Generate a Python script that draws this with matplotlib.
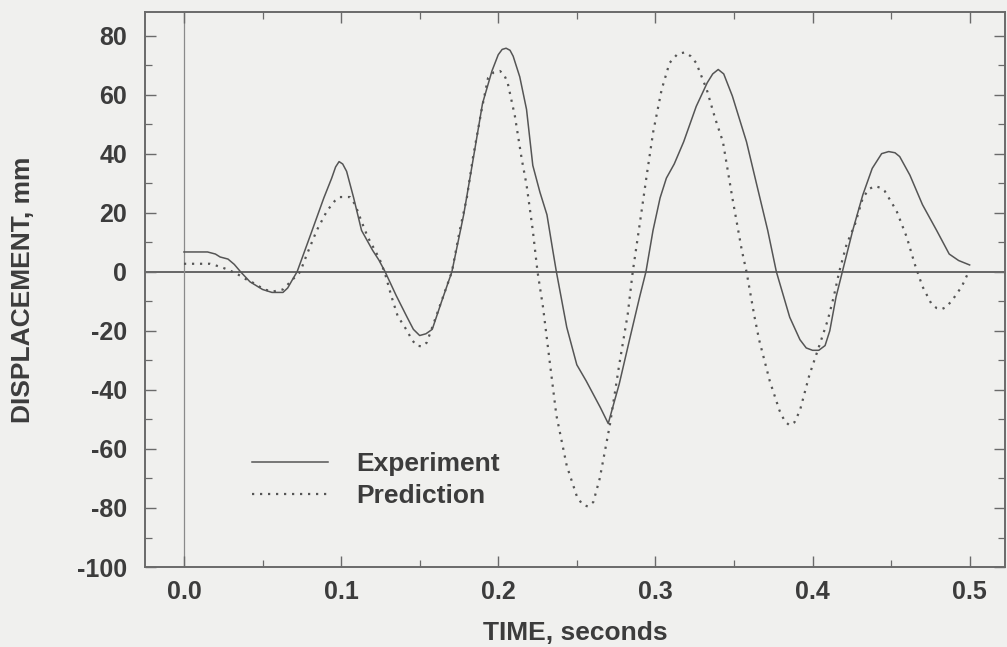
import matplotlib
matplotlib.use("Agg")
import matplotlib.pyplot as plt
from matplotlib.ticker import MultipleLocator, FixedLocator

# values
exp_t = [0.000, 0.015, 0.020, 0.023, 0.028, 0.032, 0.036, 0.042, 0.050, 0.056,
         0.063, 0.066, 0.069, 0.072, 0.080, 0.089, 0.094, 0.0965, 0.0987, 0.101,
         0.1035, 0.108, 0.113, 0.120, 0.124, 0.128, 0.135, 0.142, 0.146, 0.150,
         0.154, 0.158, 0.164, 0.1705, 0.178, 0.184, 0.190, 0.196, 0.200, 0.2025,
         0.205, 0.2075, 0.2095, 0.2137, 0.218, 0.222, 0.2265, 0.231, 0.2347, 0.237,
         0.2436, 0.250, 0.256, 0.265, 0.270, 0.277, 0.284, 0.290, 0.294, 0.2985,
         0.303, 0.307, 0.312, 0.318, 0.326, 0.333, 0.3365, 0.340, 0.3435, 0.349,
         0.358, 0.3645, 0.3715, 0.377, 0.3855, 0.392, 0.396, 0.400, 0.404, 0.408,
         0.411, 0.415, 0.419, 0.4256, 0.432, 0.438, 0.444, 0.4485, 0.4525, 0.4555,
         0.462, 0.470, 0.479, 0.487, 0.493, 0.500]
exp_disp = [6.7, 6.7, 6.0, 5.0, 4.3, 2.5, 0.0, -3.4, -6.0, -7.0,
            -7.0, -5.5, -2.7, 0.0, 11.7, 25.0, 31.7, 35.5, 37.3, 36.5,
            34.0, 25.0, 14.0, 7.3, 4.0, 0.0, -8.0, -15.4, -19.5, -21.6,
            -21.0, -19.5, -10.0, 0.0, 19.3, 38.0, 57.0, 68.0, 73.5, 75.3,
            75.7, 75.0, 73.0, 66.0, 55.0, 36.0, 27.0, 19.3, 7.3, 0.0,
            -18.8, -31.5, -37.0, -46.0, -51.4, -38.0, -22.0, -8.5, 0.0, 14.0,
            25.0, 31.7, 36.5, 44.0, 56.0, 64.0, 67.0, 68.5, 67.0, 59.5,
            44.0, 29.5, 14.0, 0.0, -15.4, -23.0, -25.8, -26.6, -26.6, -25.0,
            -20.0, -8.5, 0.0, 14.0, 26.0, 35.0, 40.0, 40.7, 40.3, 39.0,
            32.7, 22.7, 14.0, 6.0, 3.8, 2.3]

pred_t = [0.000, 0.0165, 0.023, 0.028, 0.0337, 0.040, 0.045, 0.051, 0.0566, 0.063,
          0.069, 0.074, 0.078, 0.0845, 0.091, 0.096, 0.099, 0.1056, 0.109, 0.113,
          0.117, 0.1215, 0.1247, 0.128, 0.132, 0.136, 0.142, 0.145, 0.148, 0.1515,
          0.1545, 0.158, 0.165, 0.1705, 0.1755, 0.180, 0.184, 0.1895, 0.1935, 0.197,
          0.201, 0.2035, 0.206, 0.2106, 0.215, 0.218, 0.222, 0.225, 0.2285, 0.233,
          0.237, 0.2436, 0.250, 0.2535, 0.257, 0.2605, 0.2646, 0.271, 0.277, 0.2824,
          0.2856, 0.290, 0.2945, 0.2986, 0.304, 0.309, 0.314, 0.3187, 0.3225, 0.326,
          0.3327, 0.338, 0.343, 0.349, 0.355, 0.358, 0.363, 0.366, 0.3728, 0.379,
          0.3825, 0.3855, 0.3885, 0.392, 0.398, 0.4046, 0.4097, 0.4135, 0.417, 0.4217,
          0.427, 0.432, 0.436, 0.4395, 0.443, 0.446, 0.4535, 0.460, 0.465, 0.470,
          0.4758, 0.479, 0.482, 0.485, 0.489, 0.495, 0.4994]
pred_disp = [2.7, 2.7, 1.7, 0.7, -0.7, -2.7, -4.0, -6.0, -6.7, -6.0,
             -2.7, 0.0, 5.6, 14.0, 20.6, 24.0, 25.3, 25.3, 22.7, 17.0,
             11.7, 7.3, 4.0, -0.7, -8.3, -15.0, -20.0, -23.0, -25.0, -25.3,
             -24.0, -18.8, -8.3, 0.0, 14.0, 25.0, 39.0, 55.0, 65.6, 67.5,
             68.0, 67.0, 64.0, 52.7, 38.0, 29.5, 14.0, 0.0, -12.0, -31.5,
             -48.6, -65.7, -76.0, -78.8, -79.5, -78.0, -70.0, -52.0, -31.5, -14.4,
             0.0, 16.0, 32.7, 47.3, 61.7, 70.7, 73.7, 74.3, 73.0, 70.7,
             61.7, 52.0, 44.0, 25.0, 7.3, 0.0, -15.0, -23.0, -37.0, -47.0,
             -50.8, -52.0, -51.0, -47.0, -35.0, -24.6, -16.4, -8.5, 0.0, 9.3,
             16.0, 25.0, 28.0, 29.0, 28.5, 27.3, 20.6, 11.7, 2.7, -5.0,
             -11.0, -12.3, -12.7, -12.0, -9.6, -5.0, 0.0]

x_ticks = [0.0, 0.1, 0.2, 0.3, 0.4, 0.5]
x_labels = ["0.0", "0.1", "0.2", "0.3", "0.4", "0.5"]
y_ticks = [-100, -80, -60, -40, -20, 0, 20, 40, 60, 80]
y_labels = ["-100", "-80", "-60", "-40", "-20", "0", "20", "40", "60", "80"]

bg = "#f0f0ee"
ink = "#3c3c3c"
line_col = "#555555"

plt.rcParams["font.family"] = ["Liberation Sans", "DejaVu Sans"]
plt.rcParams["font.weight"] = "bold"

fig = plt.figure(figsize=(10.07, 6.47), dpi=100, facecolor=bg)
ax = fig.add_axes([0.144, 0.1236, 0.854, 0.858], facecolor=bg)

ax.axhline(0, color="#666666", lw=1.4, zorder=1)
ax.axvline(0, color="#8a8a8a", lw=0.9, zorder=1)

ax.plot(exp_t, exp_disp, color=line_col, lw=1.1, label="Experiment", zorder=3,
        solid_joinstyle="round")
ax.plot(pred_t, pred_disp, color=line_col, lw=1.6, linestyle=(0, (1, 2.6)),
        label="Prediction", zorder=3)

ax.set_xlim(-0.0248, 0.5225)
ax.set_ylim(-100, 88)

ax.xaxis.set_major_locator(FixedLocator(x_ticks))
ax.set_xticklabels(x_labels)
ax.yaxis.set_major_locator(FixedLocator(y_ticks))
ax.set_yticklabels(y_labels)
ax.xaxis.set_minor_locator(MultipleLocator(0.05))
ax.yaxis.set_minor_locator(MultipleLocator(10))

ax.tick_params(which="both", direction="in", top=True, right=True,
               colors="#6a6a6a", labelcolor=ink, labelsize=18)
ax.tick_params(which="major", length=8, width=1.0)
ax.tick_params(which="minor", length=5, width=0.9)
ax.tick_params(axis="x", pad=9)
ax.tick_params(axis="y", pad=13)

for s in ax.spines.values():
    s.set_color("#6a6a6a")
    s.set_linewidth(1.4)

ax.set_xlabel("TIME, seconds", fontsize=19, fontweight="bold", color=ink)
ax.set_ylabel("DISPLACEMENT, mm", fontsize=19, fontweight="bold", color=ink)
ax.xaxis.set_label_coords(0.5, -0.097)
ax.yaxis.set_label_coords(-0.128, 0.5)

leg = ax.legend(loc="upper left", bbox_to_anchor=(0.124, 0.207), frameon=False,
                prop={"size": 19, "weight": "bold"}, handlelength=2.9,
                handletextpad=1.05, labelspacing=0.3, borderpad=0, borderaxespad=0)
for t in leg.get_texts():
    t.set_color(ink)

fig.savefig("out.png", dpi=100, facecolor=bg)
